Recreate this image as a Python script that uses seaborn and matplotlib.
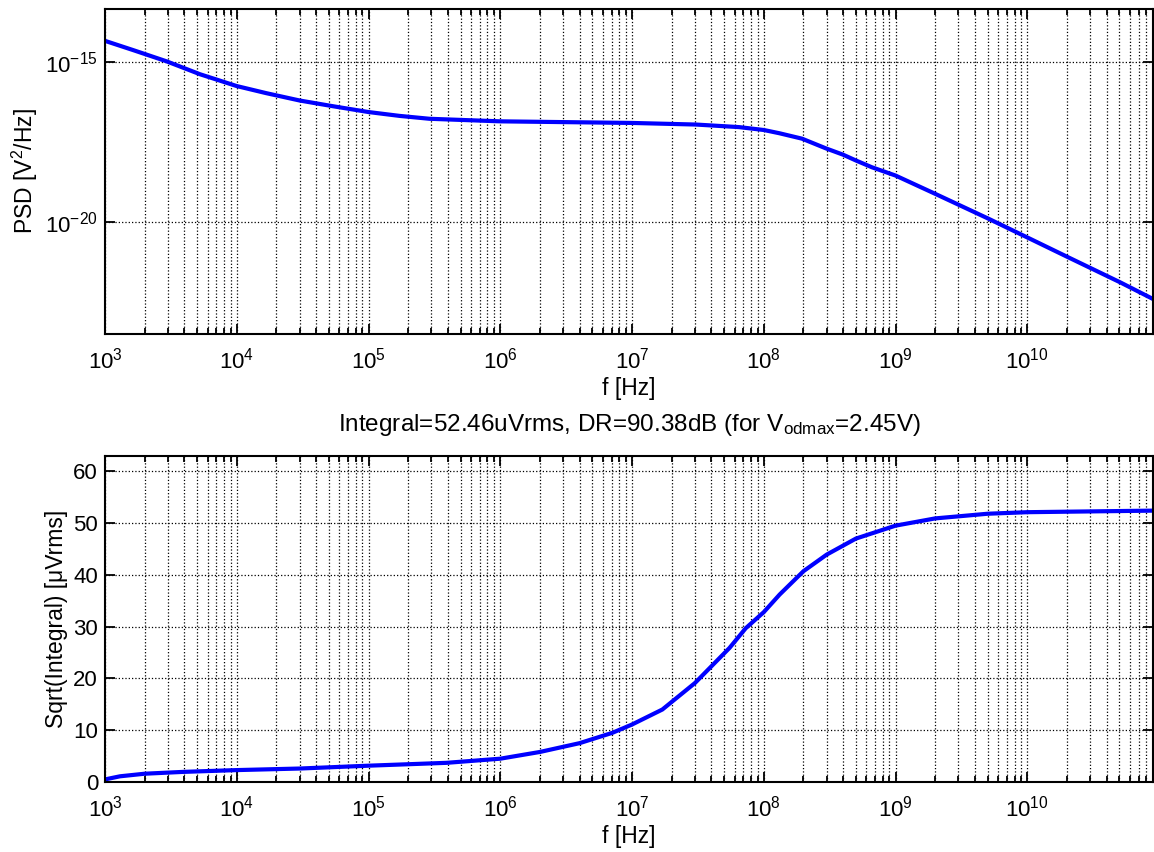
import matplotlib
matplotlib.use("Agg")
import matplotlib.pyplot as plt
import matplotlib.ticker as mticker
import seaborn as sns
import numpy as np
import pandas as pd

# values
psd_freq = [1e3, 1.64e3, 2.94e3, 5.25e3, 1e4, 1.67e4, 3e4, 5.4e4, 1e5, 1.72e5, 2.9e5,
            1e6, 4e6, 1e7, 3.06e7, 6.5e7, 1e8, 1.31e8, 1.95e8, 2.95e8, 4e8, 5e8, 6.6e8,
            1e9, 2e9, 5.1e9, 1e10, 2e10, 5.1e10, 9e10]
psd_exp = [-14.34, -14.63, -14.98, -15.38, -15.75, -15.97, -16.20, -16.38, -16.56,
           -16.68, -16.77, -16.85, -16.88, -16.90, -16.95, -17.03, -17.12, -17.22,
           -17.39, -17.69, -17.89, -18.07, -18.28, -18.54, -19.11, -19.89, -20.47,
           -21.07, -21.875, -22.39]

int_freq = [1e3, 1.3e3, 2e3, 3.9e3, 1e4, 3e4, 1e5, 3.9e5, 1e6, 2e6, 4e6, 7.1e6, 1e7,
            1.7e7, 3e7, 5.5e7, 7.3e7, 1e8, 1.32e8, 2e8, 3e8, 5e8, 1e9, 2e9, 5e9,
            1e10, 9e10]
int_urms = [0.5, 1.1, 1.6, 1.95, 2.3, 2.6, 3.15, 3.7, 4.5, 5.8, 7.5, 9.5, 11.1,
            14.0, 19.1, 25.9, 29.7, 32.8, 36.2, 40.7, 43.9, 47.0, 49.5, 50.9, 51.8,
            52.1, 52.4]

x_major = [1e3, 1e4, 1e5, 1e6, 1e7, 1e8, 1e9, 1e10]
psd_ticks = [1e-20, 1e-15]
int_ticks = [0, 10, 20, 30, 40, 50, 60]

sns.set_style("ticks")
plt.rcParams["font.family"] = ["Liberation Sans", "DejaVu Sans"]
plt.rcParams["mathtext.fontset"] = "custom"
plt.rcParams["mathtext.rm"] = "Liberation Sans"
plt.rcParams["mathtext.it"] = "Liberation Sans"
plt.rcParams["mathtext.default"] = "regular"
for key in ["text.color", "axes.labelcolor", "xtick.color", "ytick.color"]:
    plt.rcParams[key] = "black"

W, H = 1154, 852
fig = plt.figure(figsize=(W / 100, H / 100), dpi=100)
ax1 = fig.add_axes([105 / W, 1 - 334 / H, 1048 / W, 325 / H])
ax2 = fig.add_axes([105 / W, 1 - 782 / H, 1048 / W, 326 / H])

df1 = pd.DataFrame({"f": psd_freq, "psd": [10.0 ** v for v in psd_exp]})
df2 = pd.DataFrame({"f": int_freq, "v": int_urms})

sns.lineplot(data=df1, x="f", y="psd", ax=ax1, color="#0000ff", linewidth=3)
sns.lineplot(data=df2, x="f", y="v", ax=ax2, color="#0000ff", linewidth=3)

for ax in (ax1, ax2):
    ax.set_xscale("log")
    ax.set_xlim(1e3, 9e10)
    ax.set_xticks(x_major)
    ax.xaxis.set_minor_locator(mticker.LogLocator(base=10, subs=np.arange(2, 10), numticks=30))
    ax.xaxis.set_minor_formatter(mticker.NullFormatter())
    ax.grid(True, which="major", axis="both", color="black", linestyle=":", linewidth=0.9)
    ax.grid(True, which="minor", axis="x", color="black", linestyle=":", linewidth=0.9)
    ax.tick_params(which="both", direction="in", top=True, right=True, labelsize=16,
                   width=1.3, color="black", labelcolor="black")
    ax.tick_params(which="major", length=7)
    ax.tick_params(which="minor", length=4)
    ax.tick_params(axis="x", which="both", pad=10)
    ax.tick_params(axis="y", which="both", pad=5)
    for s in ax.spines.values():
        s.set_linewidth(1.5)
        s.set_color("black")
    ax.set_xlabel("f [Hz]", fontsize=16.5, labelpad=2, color="black")

ax1.set_yscale("log")
ax1.set_ylim(3.3e-24, 4.5e-14)
ax1.set_yticks(psd_ticks)
ax1.yaxis.set_minor_locator(mticker.NullLocator())
ax1.set_ylabel("PSD [V$^2$/Hz]", fontsize=16.5, color="black")

ax2.set_ylim(0, 62.95)
ax2.set_yticks(int_ticks)
ax2.set_ylabel("Sqrt(Integral) [\u03bcVrms]", fontsize=16.5, color="black")
ax2.set_title("Integral=52.46uVrms, DR=90.38dB (for V$_{odmax}$=2.45V)", fontsize=17.5,
              pad=18, color="black")

fig.savefig("out.png", dpi=100)
